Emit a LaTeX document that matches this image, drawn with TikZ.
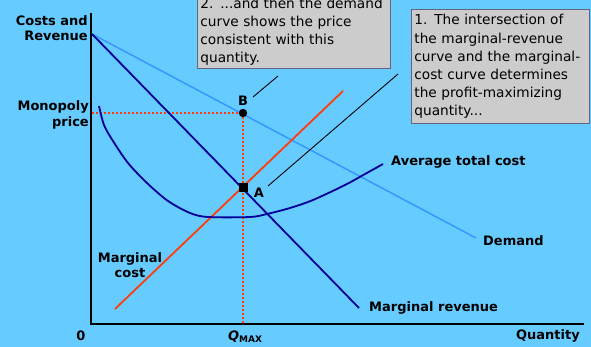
\documentclass[tikz,border=0pt]{standalone}
\usepackage{fontspec}
\setmainfont{DejaVu Sans}
\definecolor{bg}{RGB}{102,204,255}
\definecolor{demandc}{RGB}{51,153,255}
\definecolor{navy}{RGB}{0,0,153}
\definecolor{mcc}{RGB}{255,60,10}
\definecolor{boxfill}{RGB}{204,204,204}
\definecolor{boxline}{RGB}{100,100,130}
\begin{document}
\begin{tikzpicture}[x=1pt,y=-1pt,
  lbl/.style={font=\bfseries\fontsize{13}{15.5}\selectfont, inner sep=0pt, text=black},
  callout/.style={draw=boxline, line width=0.8pt, fill=boxfill, align=left, inner xsep=3pt, inner ysep=5pt,
     font=\fontsize{13.7}{18.2}\selectfont, text=black},
  axis/.style={line width=1.2pt, black},
  curve/.style={line width=1.8pt},
  guide/.style={mcc, line width=1.6pt, dash pattern=on 1.6pt off 2.4pt},
  leader/.style={line width=0.9pt, black}]
\clip (0,0) rectangle (591,347);
\fill[bg] (0,0) rectangle (591,347);
% axes
\coordinate (O) at (91,324);
\coordinate (ytop) at (91,13);
\coordinate (xend) at (584,324);
\draw[axis] (ytop) -- (O) -- (xend);
% points
\coordinate (P0) at (92,34);
\coordinate (Dend) at (476,238);
\coordinate (MRend) at (359,308);
\coordinate (MCs) at (115,309);
\coordinate (MCe) at (343,91);
\coordinate (A) at (243,188);
\coordinate (B) at (243,113);
\coordinate (yB) at (92,113);
\coordinate (xQ) at (243,323);
% guides
\draw[guide] (yB) -- (B);
\draw[guide] (B) -- (xQ);
% curves
\draw[curve, demandc, line width=1.5pt] (P0) -- (Dend);
\draw[curve, navy] (P0) -- (MRend);
\draw[curve, mcc] (MCs) -- (MCe);
\draw[curve, navy] plot[smooth, tension=0.5] coordinates {(99,106) (104,125) (113,141) (128,163) (147,183) (168,201) (190,213) (208,217) (250,217) (267,214) (290,208) (313,200) (345,185) (365,174) (383,164)};
% markers
\fill[black] (A) ++(-4.5,-4.5) rectangle ++(9,9);
\fill[black] (B) circle (4.2);
\node[lbl] (Alab) at (259,193) {A};
\node[lbl] (Blab) at (243,101) {B};
% callouts
\node[callout, anchor=south west, text width=187pt, inner ysep=3pt] (c2) at (197,69) {2. ...and then the demand\\curve shows the price\\consistent with this\\quantity.};
\node[callout, anchor=north west, text width=172pt] (c1) at (411,9) {1. The intersection of\\the marginal-revenue\\curve and the marginal-\\cost curve determines\\the profit-maximizing\\quantity...};
\coordinate (l2s) at (278,76);
\coordinate (l2e) at (253,97);
\coordinate (l1s) at (398,74);
\coordinate (l1e) at (268,186);
\draw[leader] (l2s) -- (l2e);
\draw[leader] (l1s) -- (l1e);
% labels
\node[lbl, anchor=east, align=right] (cr) at (88,28) {Costs and\\Revenue};
\node[lbl, anchor=east, align=right] (mp) at (89,115) {Monopoly\\price};
\node[lbl, align=center] (mcl) at (130,265) {Marginal\\cost};
\node[lbl, anchor=west] (atc) at (391,162) {Average total cost};
\node[lbl, anchor=west] (dem) at (483,241) {Demand};
\node[lbl, anchor=west] (mr) at (369,308) {Marginal revenue};
\node[lbl, anchor=east] (qty) at (580,336) {Quantity};
\node[lbl] (zero) at (81,336) {0};
\node[lbl] (qmax) at (245,337) {\itshape Q\upshape\raisebox{-2pt}{\fontsize{9}{10}\selectfont MAX}};
\end{tikzpicture}
\end{document}
